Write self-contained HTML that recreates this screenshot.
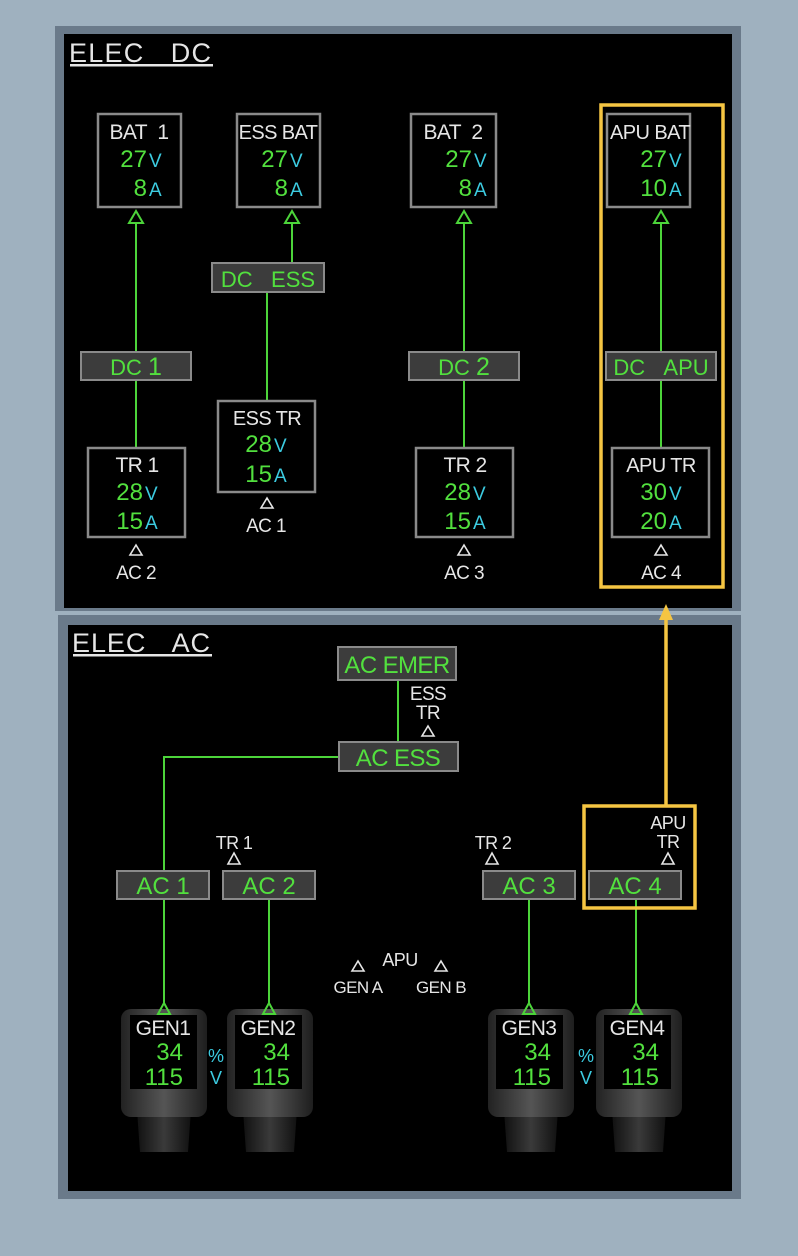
<!DOCTYPE html>
<html><head><meta charset="utf-8"><style>
html,body{margin:0;padding:0;background:#9fb1bf;}
svg{display:block}
text{font-family:"Liberation Sans",sans-serif;}
.w{fill:#e6e6e6;letter-spacing:-0.6px}.g{fill:#52e03e}.c{fill:#3ccbe0}
.box{fill:#000;stroke:#8a8a8a;stroke-width:2.5}
.bus{fill:#3c3c3c;stroke:#8a8a8a;stroke-width:2}
.ln{stroke:#4cd43a;stroke-width:2;fill:none}
.tg{fill:none;stroke:#4cd43a;stroke-width:2}
.tw{fill:none;stroke:#e6e6e6;stroke-width:1.6}
.y{fill:none;stroke:#f5c542;stroke-width:3.5}
</style></head><body>
<svg width="798" height="1256" viewBox="0 0 798 1256" xmlns="http://www.w3.org/2000/svg">
<defs>
<linearGradient id="gb" x1="0" x2="1"><stop offset="0" stop-color="#222"/><stop offset="0.5" stop-color="#555"/><stop offset="1" stop-color="#1e1e1e"/></linearGradient>
<linearGradient id="gn" x1="0" x2="1"><stop offset="0" stop-color="#111"/><stop offset="0.5" stop-color="#3a3a3a"/><stop offset="1" stop-color="#111"/></linearGradient>
</defs>
<rect x="55" y="26" width="686" height="585" fill="#6a7a8a"/>
<rect x="64" y="34" width="668" height="574" fill="#000"/>
<rect x="58" y="615" width="683" height="584" fill="#6a7a8a"/>
<rect x="68" y="625" width="664" height="566" fill="#000"/>

<text x="69" y="62" fill="#e6e6e6" font-size="27" textLength="142" lengthAdjust="spacing">ELEC&#160;&#160;&#160;DC</text>
<rect x="70" y="64" width="143" height="2.5" fill="#e6e6e6"/>

<g font-size="21" text-anchor="middle">
<rect class="box" x="98" y="114" width="83" height="93"/>
<text x="139" y="139" class="w">BAT&#160;&#160;1</text>
<text x="147" y="167" class="g" font-size="24" text-anchor="end">27</text><text x="149" y="167" class="c" font-size="19" text-anchor="start">V</text>
<text x="147" y="196" class="g" font-size="24" text-anchor="end">8</text><text x="149" y="196" class="c" font-size="19" text-anchor="start">A</text>

<rect class="box" x="237" y="114" width="83" height="93"/>
<text x="278" y="139" class="w" font-size="20">ESS BAT</text>
<text x="288" y="167" class="g" font-size="24" text-anchor="end">27</text><text x="290" y="167" class="c" font-size="19" text-anchor="start">V</text>
<text x="288" y="196" class="g" font-size="24" text-anchor="end">8</text><text x="290" y="196" class="c" font-size="19" text-anchor="start">A</text>

<rect class="box" x="411" y="114" width="85" height="93"/>
<text x="453" y="139" class="w">BAT&#160;&#160;2</text>
<text x="472" y="167" class="g" font-size="24" text-anchor="end">27</text><text x="474" y="167" class="c" font-size="19" text-anchor="start">V</text>
<text x="472" y="196" class="g" font-size="24" text-anchor="end">8</text><text x="474" y="196" class="c" font-size="19" text-anchor="start">A</text>

<rect class="box" x="607" y="114" width="83" height="93"/>
<text x="650" y="139" class="w" font-size="20">APU BAT</text>
<text x="667" y="167" class="g" font-size="24" text-anchor="end">27</text><text x="669" y="167" class="c" font-size="19" text-anchor="start">V</text>
<text x="667" y="196" class="g" font-size="24" text-anchor="end">10</text><text x="669" y="196" class="c" font-size="19" text-anchor="start">A</text>
</g>

<path class="tg" d="M136 211 L129 223 L143 223 Z M292 211 L285 223 L299 223 Z M464 211 L457 223 L471 223 Z M661 211 L654 223 L668 223 Z"/>
<path class="ln" d="M136 223 V352 M136 380 V447 M292 223 V263 M267 292 V400 M464 223 V352 M464 380 V447 M661 223 V352 M661 380 V447"/>

<g text-anchor="middle">
<rect class="bus" x="81" y="352" width="110" height="28"/>
<text x="136" y="375" class="g" font-size="22">DC <tspan font-size="25">1</tspan></text>
<rect class="bus" x="212" y="263" width="112" height="29"/>
<text x="268" y="287" class="g" font-size="22">DC&#160;&#160;&#160;ESS</text>
<rect class="bus" x="409" y="352" width="110" height="28"/>
<text x="464" y="375" class="g" font-size="22">DC <tspan font-size="25">2</tspan></text>
<rect class="bus" x="606" y="352" width="110" height="28"/>
<text x="661" y="375" class="g" font-size="22">DC&#160;&#160;&#160;APU</text>
</g>

<g font-size="21" text-anchor="middle">
<rect class="box" x="88" y="448" width="97" height="89"/>
<text x="137" y="472" class="w">TR 1</text>
<text x="143" y="500" class="g" font-size="24" text-anchor="end">28</text><text x="145" y="500" class="c" font-size="19" text-anchor="start">V</text>
<text x="143" y="529" class="g" font-size="24" text-anchor="end">15</text><text x="145" y="529" class="c" font-size="19" text-anchor="start">A</text>

<rect class="box" x="218" y="401" width="97" height="91"/>
<text x="267" y="425" class="w" font-size="20">ESS TR</text>
<text x="272" y="452" class="g" font-size="24" text-anchor="end">28</text><text x="274" y="452" class="c" font-size="19" text-anchor="start">V</text>
<text x="272" y="482" class="g" font-size="24" text-anchor="end">15</text><text x="274" y="482" class="c" font-size="19" text-anchor="start">A</text>

<rect class="box" x="416" y="448" width="97" height="89"/>
<text x="465" y="472" class="w">TR 2</text>
<text x="471" y="500" class="g" font-size="24" text-anchor="end">28</text><text x="473" y="500" class="c" font-size="19" text-anchor="start">V</text>
<text x="471" y="529" class="g" font-size="24" text-anchor="end">15</text><text x="473" y="529" class="c" font-size="19" text-anchor="start">A</text>

<rect class="box" x="612" y="448" width="97" height="89"/>
<text x="661" y="472" class="w" font-size="20">APU TR</text>
<text x="667" y="500" class="g" font-size="24" text-anchor="end">30</text><text x="669" y="500" class="c" font-size="19" text-anchor="start">V</text>
<text x="667" y="529" class="g" font-size="24" text-anchor="end">20</text><text x="669" y="529" class="c" font-size="19" text-anchor="start">A</text>

<text x="136" y="579" class="w" font-size="19">AC 2</text>
<text x="266" y="532" class="w" font-size="19">AC 1</text>
<text x="464" y="579" class="w" font-size="19">AC 3</text>
<text x="661" y="579" class="w" font-size="19">AC 4</text>
</g>
<path class="tw" d="M136 545 L130 555 L142 555 Z M267 498 L261 508 L273 508 Z M464 545 L458 555 L470 555 Z M661 545 L655 555 L667 555 Z"/>

<rect class="y" x="601" y="105" width="122" height="482"/>
<path d="M666 806 V620" stroke="#f5c542" stroke-width="3.5" fill="none"/>
<path d="M666 604 L659 620 L673 620 Z" fill="#f5c542"/>

<text x="72" y="652" fill="#e6e6e6" font-size="27" textLength="138" lengthAdjust="spacing">ELEC&#160;&#160;&#160;AC</text>
<rect x="73" y="654" width="139" height="2.5" fill="#e6e6e6"/>

<path class="ln" d="M398 680 V742 M339 757 H164 V870 M164 900 V1003 M269 900 V1003 M529 900 V1003 M636 900 V1003"/>
<g text-anchor="middle">
<rect class="bus" x="338" y="647" width="118" height="33"/>
<text x="397" y="673" class="g" font-size="24" letter-spacing="-0.6">AC EMER</text>
<rect class="bus" x="339" y="742" width="119" height="29"/>
<text x="398" y="766" class="g" font-size="24" letter-spacing="-0.6">AC ESS</text>
<text x="428" y="700" class="w" font-size="19">ESS</text>
<text x="428" y="719" class="w" font-size="19">TR</text>

<rect class="bus" x="117" y="871" width="92" height="28"/>
<text x="163" y="894" class="g" font-size="24">AC 1</text>
<rect class="bus" x="223" y="871" width="92" height="28"/>
<text x="269" y="894" class="g" font-size="24">AC 2</text>
<rect class="bus" x="483" y="871" width="92" height="28"/>
<text x="529" y="894" class="g" font-size="24">AC 3</text>
<rect class="bus" x="589" y="871" width="92" height="28"/>
<text x="635" y="894" class="g" font-size="24">AC 4</text>

<text x="234" y="849" class="w" font-size="18">TR 1</text>
<text x="493" y="849" class="w" font-size="18">TR 2</text>
<text x="668" y="829" class="w" font-size="18">APU</text>
<text x="668" y="848" class="w" font-size="18">TR</text>

<text x="400" y="966" class="w" font-size="18">APU</text>
<text x="358" y="993" class="w" font-size="17">GEN A</text>
<text x="441" y="993" class="w" font-size="17">GEN B</text>
</g>
<path class="tw" d="M428 726 L422 736 L434 736 Z M234 853 L228 864 L240 864 Z M492 853 L486 864 L498 864 Z M668 853 L662 864 L674 864 Z M358 961 L352 971 L364 971 Z M441 961 L435 971 L447 971 Z"/>
<rect class="y" x="584" y="806" width="111" height="102"/>

<g>
<path d="M137 1110 H191 L188 1152 H140 Z" fill="url(#gn)"/>
<rect x="121" y="1009" width="86" height="108" rx="10" fill="url(#gb)"/>
<rect x="130" y="1015" width="67" height="74" fill="#000"/>
<path d="M243 1110 H297 L294 1152 H246 Z" fill="url(#gn)"/>
<rect x="227" y="1009" width="86" height="108" rx="10" fill="url(#gb)"/>
<rect x="235" y="1015" width="67" height="74" fill="#000"/>
<path d="M504 1110 H558 L555 1152 H507 Z" fill="url(#gn)"/>
<rect x="488" y="1009" width="86" height="108" rx="10" fill="url(#gb)"/>
<rect x="496" y="1015" width="67" height="74" fill="#000"/>
<path d="M612 1110 H666 L663 1152 H615 Z" fill="url(#gn)"/>
<rect x="596" y="1009" width="86" height="108" rx="10" fill="url(#gb)"/>
<rect x="604" y="1015" width="67" height="74" fill="#000"/>
</g>
<path class="tg" d="M164 1003 L158 1014 L170 1014 Z M269 1003 L263 1014 L275 1014 Z M529 1003 L523 1014 L535 1014 Z M636 1003 L630 1014 L642 1014 Z"/>
<g text-anchor="middle" font-size="21">
<text x="163" y="1035" class="w">GEN1</text><text x="183" y="1060" class="g" font-size="24" text-anchor="end">34</text><text x="183" y="1085" class="g" font-size="24" text-anchor="end">115</text>
<text x="268" y="1035" class="w">GEN2</text><text x="290" y="1060" class="g" font-size="24" text-anchor="end">34</text><text x="290" y="1085" class="g" font-size="24" text-anchor="end">115</text>
<text x="529" y="1035" class="w">GEN3</text><text x="551" y="1060" class="g" font-size="24" text-anchor="end">34</text><text x="551" y="1085" class="g" font-size="24" text-anchor="end">115</text>
<text x="637" y="1035" class="w">GEN4</text><text x="659" y="1060" class="g" font-size="24" text-anchor="end">34</text><text x="659" y="1085" class="g" font-size="24" text-anchor="end">115</text>
<text x="216" y="1062" class="c" font-size="18">%</text><text x="216" y="1084" class="c" font-size="18">V</text>
<text x="586" y="1062" class="c" font-size="18">%</text><text x="586" y="1084" class="c" font-size="18">V</text>
</g>
</svg>
</body></html>
